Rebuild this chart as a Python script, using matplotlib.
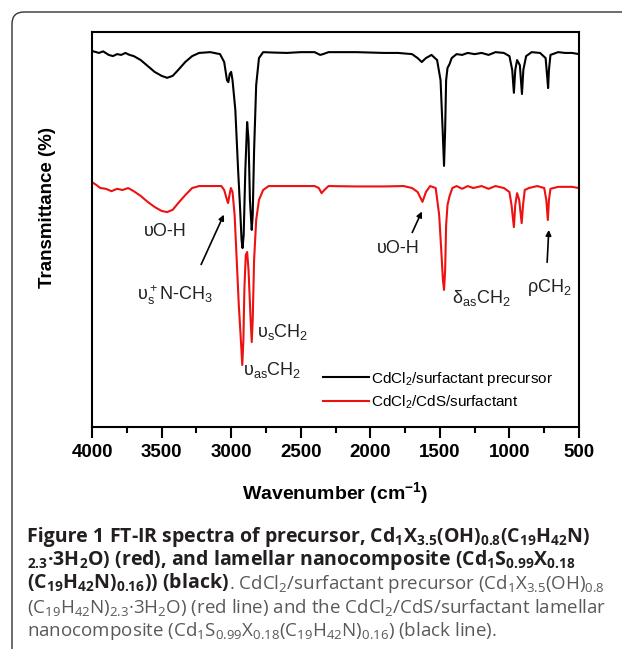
import numpy as np
import matplotlib
matplotlib.use("Agg")
import matplotlib.pyplot as plt
from matplotlib.patches import FancyBboxPatch
from matplotlib.transforms import IdentityTransform

plt.rcParams['mathtext.fontset'] = 'custom'
plt.rcParams['mathtext.default'] = 'regular'
plt.rcParams['font.family'] = ['Liberation Sans', 'DejaVu Sans']

# precursor spectrum (black): wavenumber, transmittance
wn_black = [4000, 3950, 3920, 3880, 3850, 3820, 3790, 3760, 3730, 3700, 3650, 3600,
            3550, 3500, 3460, 3420, 3380, 3330, 3280, 3230, 3150, 3080, 3050, 3030,
            3020, 3010, 3000, 2990, 2970, 2950, 2935, 2925, 2918, 2910, 2898, 2885,
            2875, 2865, 2852, 2845, 2835, 2820, 2800, 2770, 2700, 2600, 2500, 2400,
            2360, 2340, 2300, 2100, 1900, 1800, 1700, 1660, 1630, 1600, 1560, 1520,
            1495, 1480, 1470, 1462, 1455, 1445, 1430, 1415, 1380, 1340, 1300, 1250,
            1200, 1150, 1100, 1040, 1000, 980, 968, 958, 945, 925, 910, 900, 880, 840,
            780, 740, 728, 722, 716, 705, 650, 600, 550, 500]
t_black = [95.2, 94.7, 95.1, 94.2, 93.9, 94.4, 94.2, 94.7, 94.2, 93.9, 92.9, 91.4,
           89.9, 88.9, 88.4, 88.9, 90.4, 92.4, 93.9, 94.7, 94.9, 94.4, 92.4, 87.8,
           87.3, 89.4, 89.9, 87.8, 80.3, 65.1, 54.9, 47.3, 45.3, 48.6, 65.1, 77.2,
           72.7, 57.5, 49.9, 53.7, 70.1, 86.6, 93.4, 94.9, 94.8, 94.7, 94.9, 94.9,
           94.2, 94.4, 94.9, 94.9, 94.7, 94.7, 94.4, 93.4, 92.4, 93.4, 94.2, 92.9,
           87.8, 75.2, 66.1, 75.2, 87.8, 90.9, 91.9, 93.4, 94.4, 94.2, 94.7, 94.4,
           94.7, 94.2, 94.9, 94.7, 93.9, 90.4, 84.6, 90.4, 92.9, 91.6, 84.3, 90.4, 93.9, 94.9,
           94.7, 93.4, 88.4, 85.8, 90.4, 94.2, 94.9, 94.7, 94.7, 94.4]

# CdS composite spectrum (red)
wn_red = [4000, 3970, 3940, 3900, 3860, 3820, 3780, 3740, 3700, 3650, 3600, 3550,
          3500, 3460, 3420, 3380, 3330, 3280, 3230, 3150, 3070, 3050, 3030, 3022,
          3012, 3002, 2990, 2975, 2960, 2945, 2930, 2920, 2912, 2905, 2895, 2885,
          2875, 2860, 2852, 2845, 2835, 2820, 2800, 2770, 2730, 2600, 2400, 2370,
          2350, 2330, 2300, 2100, 1900, 1760, 1700, 1660, 1625, 1600, 1570, 1530,
          1505, 1490, 1478, 1470, 1462, 1455, 1445, 1430, 1410, 1380, 1340, 1300,
          1260, 1200, 1150, 1100, 1040, 1000, 985, 968, 958, 945, 930, 912, 902, 890,
          860, 800, 750, 735, 724, 716, 705, 650, 550, 500]
t_red = [62.0, 61.3, 60.5, 60.3, 59.7, 60.3, 60.0, 60.5, 59.7, 58.5, 57.0, 55.7,
         54.7, 54.4, 55.0, 56.7, 58.7, 60.5, 61.0, 61.0, 61.0, 60.0, 57.5, 56.7,
         58.7, 60.5, 59.5, 53.7, 42.3, 30.9, 22.0, 15.7, 22.0, 34.7, 43.5, 44.3,
         39.7, 27.1, 21.5, 27.1, 42.3, 52.4, 57.5, 60.0, 61.0, 61.0, 61.0, 60.5,
         59.2, 60.0, 61.0, 60.9, 60.9, 61.0, 60.5, 59.5, 57.0, 59.5, 61.0, 60.5,
         53.7, 44.8, 37.2, 34.7, 39.7, 51.1, 56.2, 58.5, 60.5, 61.0, 60.3, 61.0,
         60.5, 61.0, 60.3, 61.0, 60.5, 59.5, 56.2, 50.6, 56.2, 59.2, 57.5, 51.6, 56.2, 60.0,
         60.5, 61.0, 60.5, 57.5, 52.4, 57.5, 60.3, 60.8, 60.8, 60.5]

xticks = [4000, 3500, 3000, 2500, 2000, 1500, 1000, 500]

W, H = 622, 649
fig = plt.figure(figsize=(W / 100, H / 100), dpi=100)
ax = fig.add_axes([92 / W, 1 - 427 / H, 487 / W, 395 / H])

ax.plot(wn_black, t_black, color='black', lw=1.5, label='CdCl$_2$/surfactant precursor')
ax.plot(wn_red, t_red, color='#ee1111', lw=1.5, label='CdCl$_2$/CdS/surfactant')

ax.set_xlim(4000, 500)
ax.set_ylim(0, 100)
ax.set_xticks(xticks)
ax.set_xticks([3750, 3250, 2750, 2250, 1750, 1250, 750], minor=True)
ax.set_yticks([])
for s in ax.spines.values():
    s.set_linewidth(1.5)
ax.tick_params(axis='x', which='major', direction='out', length=8, width=1.5,
               labelsize=13.5, pad=4)
ax.tick_params(axis='x', which='minor', direction='out', length=4, width=1.5)
for lab in ax.get_xticklabels():
    lab.set_fontweight('bold')
ax.set_xlabel('Wavenumber (cm$^{-1}$)', fontsize=14, fontweight='bold', labelpad=14)
fig.text(48 / W, 1 - 207 / H, 'Transmittance (%)', rotation=90, ha='center',
         va='center', fontsize=13.5, fontweight='bold')

# peak labels
fs = 13
c = '#222222'
ax.text(3475, 49.4, 'υO-H', fontsize=fs, ha='center', va='center', color=c)
ax.annotate('', xy=(3044, 54.4), xytext=(3224, 40.5),
            arrowprops=dict(arrowstyle='-|>', color='black', lw=1.2, mutation_scale=8))
ax.text(3677, 33.4, 'υ$_s^+$N-CH$_3$', fontsize=fs, ha='left', va='center', color=c)
ax.text(2814, 24.0, 'υ$_s$CH$_2$', fontsize=fs, ha='left', va='center', color=c)
ax.text(2915, 14.4, 'υ$_{as}$CH$_2$', fontsize=fs, ha='left', va='center', color=c)
ax.text(1952, 45.3, 'υO-H', fontsize=fs, ha='left', va='center', color=c)
ax.annotate('', xy=(1621, 55.2), xytext=(1707, 48.6),
            arrowprops=dict(arrowstyle='-|>', color='black', lw=1.2, mutation_scale=8))
ax.text(1413, 32.7, 'δ$_{as}$CH$_2$', fontsize=fs, ha='left', va='center', color=c)
ax.text(874, 35.2, 'ρCH$_2$', fontsize=fs, ha='left', va='center', color=c)
ax.annotate('', xy=(716, 50.6), xytext=(730, 41.0),
            arrowprops=dict(arrowstyle='-|>', color='black', lw=1.2, mutation_scale=8))

ax.legend(loc='upper left', bbox_to_anchor=(0.474, 0.145), frameon=False,
          fontsize=11, handlelength=3.0, handletextpad=0.15, borderpad=0,
          borderaxespad=0, labelspacing=0.4)

# frame around figure panel
fig.add_artist(FancyBboxPatch((12, -60), 700, H - 12 + 60, boxstyle='round,pad=0,rounding_size=12',
                              transform=IdentityTransform(), fill=False,
                              edgecolor='#333333', lw=1))

# caption
dark = '#231f20'
grey = '#58595b'
cap = [
    [('Figure 1', dark, 'bold'),
     (' FT-IR spectra of precursor, Cd$_1$X$_{3.5}$(OH)$_{0.8}$(C$_{19}$H$_{42}$N)', dark, 'bold')],
    [('${}_{2.3}$·3H$_2$O) (red), and lamellar nanocomposite (Cd$_1$S$_{0.99}$X$_{0.18}$', dark, 'bold')],
    [('(C$_{19}$H$_{42}$N)$_{0.16}$)) (black)', dark, 'bold'),
     ('. CdCl$_2$/surfactant precursor (Cd$_1$X$_{3.5}$(OH)$_{0.8}$', grey, 'normal')],
    [('(C$_{19}$H$_{42}$N)$_{2.3}$·3H$_2$O) (red line) and the CdCl$_2$/CdS/surfactant lamellar', grey, 'normal')],
    [('nanocomposite (Cd$_1$S$_{0.99}$X$_{0.18}$(C$_{19}$H$_{42}$N)$_{0.16}$) (black line).', grey, 'normal')],
]
renderer = fig.canvas.get_renderer()
for i, line in enumerate(cap):
    x = 27
    for txt, col, wt in line:
        size = 14 if wt == 'bold' else 13.5
        t = fig.text(x / W, 1 - (542 + 23.5 * i) / H, txt, fontsize=size, color=col,
                     fontweight=wt, family='Open Sans', ha='left', va='baseline')
        x += t.get_window_extent(renderer).width

fig.savefig('out.png', dpi=100)
